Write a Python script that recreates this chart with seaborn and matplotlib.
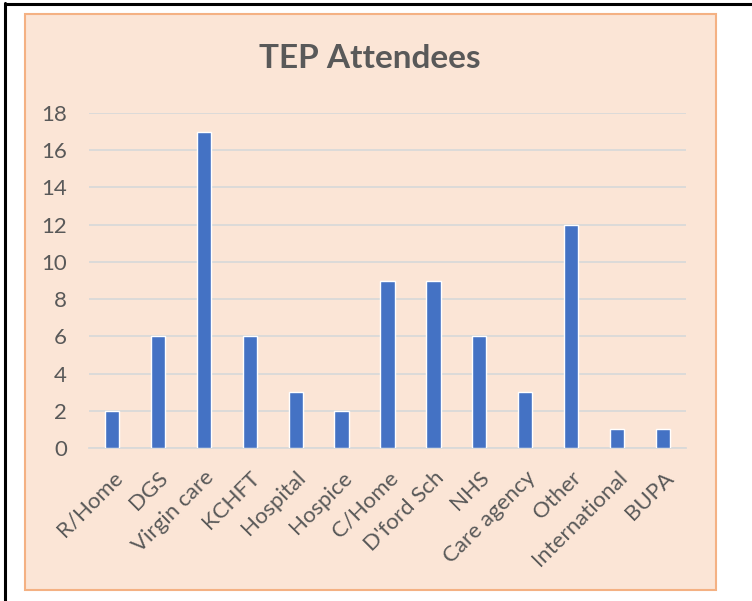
import matplotlib
matplotlib.use("Agg")
import matplotlib.pyplot as plt
import matplotlib.patches as mpatches
import pandas as pd
import seaborn as sns

# ============================================================
# DATA
# ============================================================

categories = ["R/Home", "DGS", "Virgin care", "KCHFT", "Hospital", "Hospice",
              "C/Home", "D'ford Sch", "NHS", "Care agency", "Other",
              "International", "BUPA"]
attendees = [2, 6, 17, 6, 3, 2, 9, 9, 6, 3, 12, 1, 1]
y_ticks = list(range(0, 20, 2))

TITLE = "TEP Attendees"

# ============================================================
# STYLE
# ============================================================

BAR_COLOR  = "#4472C4"
PANEL_BG   = "#FBE5D6"
PANEL_EDGE = "#F4B183"
GRID_COLOR = "#D9D9D9"
TEXT_COLOR = "#595959"

sns.set_theme(style="white")
plt.rcParams["font.family"] = ["Lato", "DejaVu Sans"]

W, H = 752, 601
fig = plt.figure(figsize=(W / 100, H / 100), dpi=100)
fig.patch.set_facecolor("white")

# black frame on top and left (cropped screenshot)
fig.add_artist(plt.Line2D([5 / W, 5 / W], [0, 1 - 3 / H], color="black", lw=2.2,
                          transform=fig.transFigure))
fig.add_artist(plt.Line2D([5 / W, 1], [1 - 4 / H, 1 - 4 / H], color="black", lw=2.2,
                          transform=fig.transFigure))

# peach chart panel
fig.add_artist(mpatches.Rectangle((25 / W, 1 - 590 / H), (716 - 25) / W, (590 - 14) / H,
                                  facecolor=PANEL_BG, edgecolor=PANEL_EDGE, lw=1.5,
                                  transform=fig.transFigure, zorder=0))

ax = fig.add_axes([89 / W, 1 - 448 / H, (686 - 89) / W, (448 - 113) / H])
ax.set_facecolor("none")

df = pd.DataFrame({"category": categories, "attendees": attendees})
sns.barplot(data=df, x="category", y="attendees", color=BAR_COLOR,
            width=0.31, saturation=1, ax=ax, zorder=3)

ax.set_ylim(0, 18)
ax.set_yticks(y_ticks)
ax.yaxis.grid(True, color=GRID_COLOR, lw=1.3, zorder=0)
ax.set_axisbelow(True)
for side in ["top", "right", "left"]:
    ax.spines[side].set_visible(False)
ax.spines["bottom"].set_color(GRID_COLOR)
ax.spines["bottom"].set_linewidth(1.3)

ax.set_xlabel("")
ax.set_ylabel("")
ax.tick_params(axis="y", length=0, pad=16, labelsize=16, labelcolor=TEXT_COLOR)
ax.tick_params(axis="x", length=0, pad=14, labelsize=16, labelcolor=TEXT_COLOR)
for lbl in ax.get_xticklabels():
    lbl.set_rotation(45)
    lbl.set_ha("right")
    lbl.set_va("top")
    lbl.set_rotation_mode("anchor")

fig.text(370 / W, 1 - 58 / H, TITLE, ha="center", va="center",
         fontsize=24, fontweight="bold", color=TEXT_COLOR)

fig.savefig("out.png", dpi=100)
